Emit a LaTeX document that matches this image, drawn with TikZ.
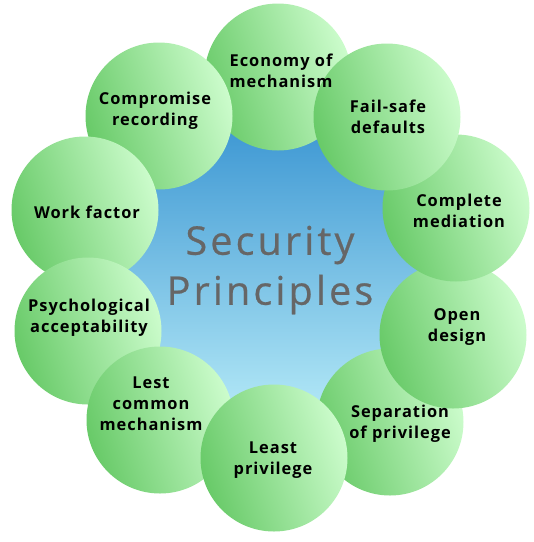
\documentclass[tikz,border=0pt]{standalone}
\usepackage{fontspec}
\newfontfamily\labfont[LetterSpace=6]{Open Sans}
\newfontfamily\titlefont[LetterSpace=8,FakeBold=0.6]{Open Sans}
\definecolor{gdark}{RGB}{104,202,104}
\definecolor{glight}{RGB}{204,252,204}
\definecolor{btop}{RGB}{52,145,208}
\definecolor{bbot}{RGB}{190,240,250}
\definecolor{titlegray}{RGB}{102,102,102}
\tikzset{
  bubble/.style={circle, minimum size=147pt, inner sep=0pt,
    left color=gdark, right color=glight, shading angle=108},
  lab/.style={align=center, text=black,
    font=\labfont\bfseries\fontsize{16.4}{21}\selectfont},
  hub/.style={circle, minimum size=340pt, inner sep=0pt,
    top color=btop, bottom color=bbot},
  title/.style={align=center, text=titlegray,
    font=\titlefont\fontsize{39.5}{50}\selectfont}
}
\begin{document}
\begin{tikzpicture}[x=1pt,y=-1pt]
\useasboundingbox (0,0) rectangle (534,542);
\node[hub] (hub) at (271,271) {};
\node[bubble] (econ) at (278,77) {};
\node[bubble] (comp) at (159,116) {};
\node[bubble] (work) at (85,210) {};
\node[bubble] (psych) at (88,331) {};
\node[bubble] (lcm) at (160,420) {};
\node[bubble] (sep) at (390,422) {};
\node[bubble] (least) at (274,458) {};
\node[bubble] (open) at (453,335) {};
\node[bubble] (cmed) at (456,208) {};
\node[bubble] (fail) at (387,117) {};
\node[title] (ttl) at (270,270) {Security\\Principles};
\node[lab] (teco) at (281,71) {Economy of\\mechanism};
\node[lab] (tfail) at (388,117) {Fail-safe\\defaults};
\node[lab] (tcomp) at (155,111) {Compromise\\recording};
\node[lab] (tcmed) at (459,211) {Complete\\mediation};
\node[lab] (twork) at (87,212) {Work factor};
\node[lab] (topen) at (457,327) {Open\\design};
\node[lab] (tpsy) at (89,318) {Psychological\\acceptability};
\node[lab] (tsep) at (400,424) {Separation\\of privilege};
\node[lab] (tlcm) at (151,404) {Lest\\common\\mechanism};
\node[lab] (tleast) at (273,460) {Least\\privilege};
\end{tikzpicture}
\end{document}
